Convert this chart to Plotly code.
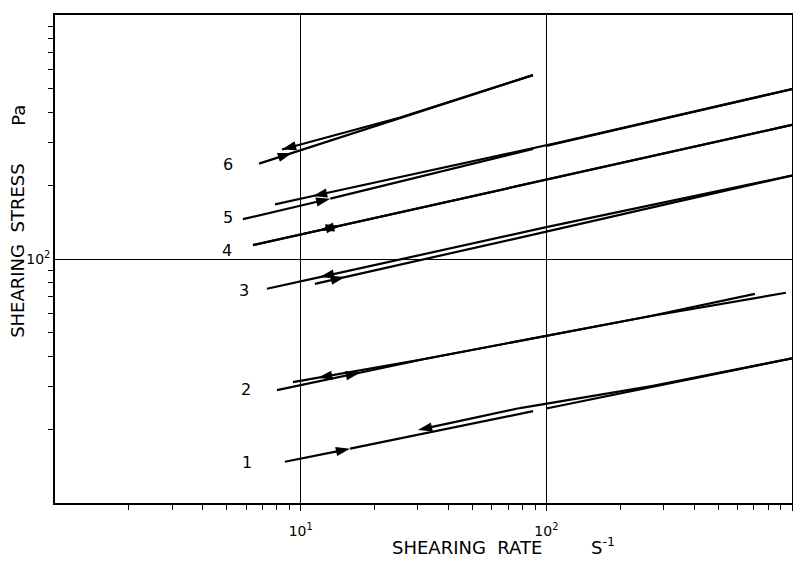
import math
import plotly.graph_objects as go

# ---------------- data ----------------
# Each curve: an "up" branch and a "down" branch, points in drawing order
c1_up_x = [8.63, 15.9, 100, 1000]
c1_up_y = [14.76, 16.7, 24.4, 39.15]
c1_down_x = [1000, 271.6, 78.1, 30.0]
c1_down_y = [39.15, 30.2, 24.5, 19.93]

c2_up_x = [8.01, 17.43, 32.7, 256.7, 944.6]
c2_up_y = [29.0, 34.2, 39.1, 58.0, 72.7]
c2_down_x = [706.3, 256.7, 32.7, 11.76, 9.30]
c2_down_y = [72.0, 58.0, 39.1, 32.6, 31.3]

c3_up_x = [11.43, 15.15, 100, 1000]
c3_up_y = [79.1, 84.3, 129.4, 219.9]
c3_down_x = [1000, 100, 11.98, 7.29]
c3_down_y = [219.9, 135.0, 84.3, 75.5]

c4_up_x = [6.40, 14.45, 100, 1000]
c4_up_y = [114.0, 136.9, 211.8, 354.7]
c4_down_x = [1000, 100, 11.98, 6.40]
c4_down_y = [354.7, 211.8, 131.3, 114.0]

c5_up_x = [5.82, 13.2, 100, 1000]
c5_up_y = [145.6, 176.7, 291, 497]
c5_down_x = [1000, 113.6, 11.22, 7.86]
c5_down_y = [497, 301, 181.2, 167.5]

c6_up_x = [6.77, 9.22, 25.4, 88.2]
c6_up_y = [246, 272, 380, 567]
c6_down_x = [88.2, 25.4, 8.39]
c6_down_y = [567, 380, 281]

curve_labels = ["1", "2", "3", "4", "5", "6"]
# index of the point on each branch where the direction arrow sits
up_arrow_at = [1, 1, 1, 1, 1, 1]
down_arrow_at = [3, 3, 2, 2, 2, 2]

x_tickvals = [10, 100, 1000]
x_ticktext = ["10<sup>1</sup>", "10<sup>2</sup>", "10<sup>3</sup>"]
y_tickvals = [100]
y_ticktext = ["10<sup>2</sup>"]
x_minor = [m * d for d in (1, 10, 100) for m in range(2, 10)]
y_minor = [m * d for d in (10, 100) for m in range(2, 10)]

x_title = "SHEARING  RATE"
x_unit = "S<sup>-1</sup>"
y_title = "SHEARING  STRESS"
y_unit = "Pa"

# ---------------- styling ----------------
FONT = "DejaVu Sans"
LINE_W = 2.2
ARROW_SIZE = 15
# label offsets (px) from the left end of each curve
label_shift = [(-38, -1), (-31, 1), (-23, -2), (-26, -5), (-15, 2), (-31, -1)]

curves = [
    (c1_up_x, c1_up_y, c1_down_x, c1_down_y),
    (c2_up_x, c2_up_y, c2_down_x, c2_down_y),
    (c3_up_x, c3_up_y, c3_down_x, c3_down_y),
    (c4_up_x, c4_up_y, c4_down_x, c4_down_y),
    (c5_up_x, c5_up_y, c5_down_x, c5_down_y),
    (c6_up_x, c6_up_y, c6_down_x, c6_down_y),
]

fig = go.Figure()
annotations = []
for k, (ux, uy, dx, dy) in enumerate(curves):
    for bx, by, ai in ((ux, uy, up_arrow_at[k]), (dx, dy, down_arrow_at[k])):
        sizes = [ARROW_SIZE if i == ai else 0 for i in range(len(bx))]
        fig.add_trace(go.Scatter(
            x=bx, y=by, mode="lines+markers",
            line=dict(color="black", width=LINE_W),
            marker=dict(symbol="arrow", size=sizes, angleref="previous",
                        color="black", opacity=1, line=dict(width=0)),
            showlegend=False, hoverinfo="skip"))
    # label at the left end of the curve (log axes: annotation coords in log10)
    allx = ux + dx
    ally = uy + dy
    j = allx.index(min(allx))
    sx, sy = label_shift[k]
    annotations.append(dict(
        x=math.log10(allx[j]), y=math.log10(ally[j]), xref="x", yref="y",
        text=curve_labels[k],
        showarrow=False, xanchor="center", yanchor="middle",
        xshift=sx, yshift=sy, font=dict(family=FONT, size=16, color="black")))

# axis titles as annotations
annotations += [
    dict(x=0.4545, y=-0.092, xref="paper", yref="paper", text=x_title,
         showarrow=False, xanchor="left", yanchor="middle",
         font=dict(family=FONT, size=18, color="black")),
    dict(x=0.725, y=-0.088, xref="paper", yref="paper", text=x_unit,
         showarrow=False, xanchor="left", yanchor="middle",
         font=dict(family=FONT, size=18, color="black")),
    dict(x=-0.05, y=0.517, xref="paper", yref="paper", text=y_title,
         showarrow=False, xanchor="center", yanchor="middle", textangle=-90,
         font=dict(family=FONT, size=18, color="black")),
    dict(x=-0.05, y=0.794, xref="paper", yref="paper", text=y_unit,
         showarrow=False, xanchor="center", yanchor="middle", textangle=-90,
         font=dict(family=FONT, size=18, color="black")),
]

# the page body adds an 8 px offset, so the figure is 8 px smaller
fig.update_layout(
    width=793, height=555,
    margin=dict(l=47, r=9, t=5, b=60),
    paper_bgcolor="white", plot_bgcolor="white",
    showlegend=False,
    font=dict(family=FONT, color="black"),
    annotations=annotations,
)

fig.update_xaxes(
    type="log", range=[0, 3],
    tickmode="array", tickvals=x_tickvals, ticktext=x_ticktext,
    ticks="outside", ticklen=6, tickwidth=1.2, tickcolor="black",
    tickfont=dict(family=FONT, size=14, color="black"),
    ticklabelstandoff=8,
    showgrid=True, gridcolor="black", gridwidth=1.2,
    showline=True, linecolor="black", linewidth=1.8, mirror=True,
    zeroline=False,
    minor=dict(tickmode="array", tickvals=x_minor, ticks="outside",
               ticklen=5, tickwidth=1, tickcolor="black", showgrid=False),
)
fig.update_yaxes(
    type="log", range=[1, 3],
    tickmode="array", tickvals=y_tickvals, ticktext=y_ticktext,
    ticks="", 
    tickfont=dict(family=FONT, size=14, color="black"),
    showgrid=True, gridcolor="black", gridwidth=1.2,
    showline=True, linecolor="black", linewidth=1.8, mirror=True,
    zeroline=False,
    minor=dict(tickmode="array", tickvals=y_minor, ticks="outside",
               ticklen=5, tickwidth=1, tickcolor="black", showgrid=False),
)

fig.write_html("out.html")
